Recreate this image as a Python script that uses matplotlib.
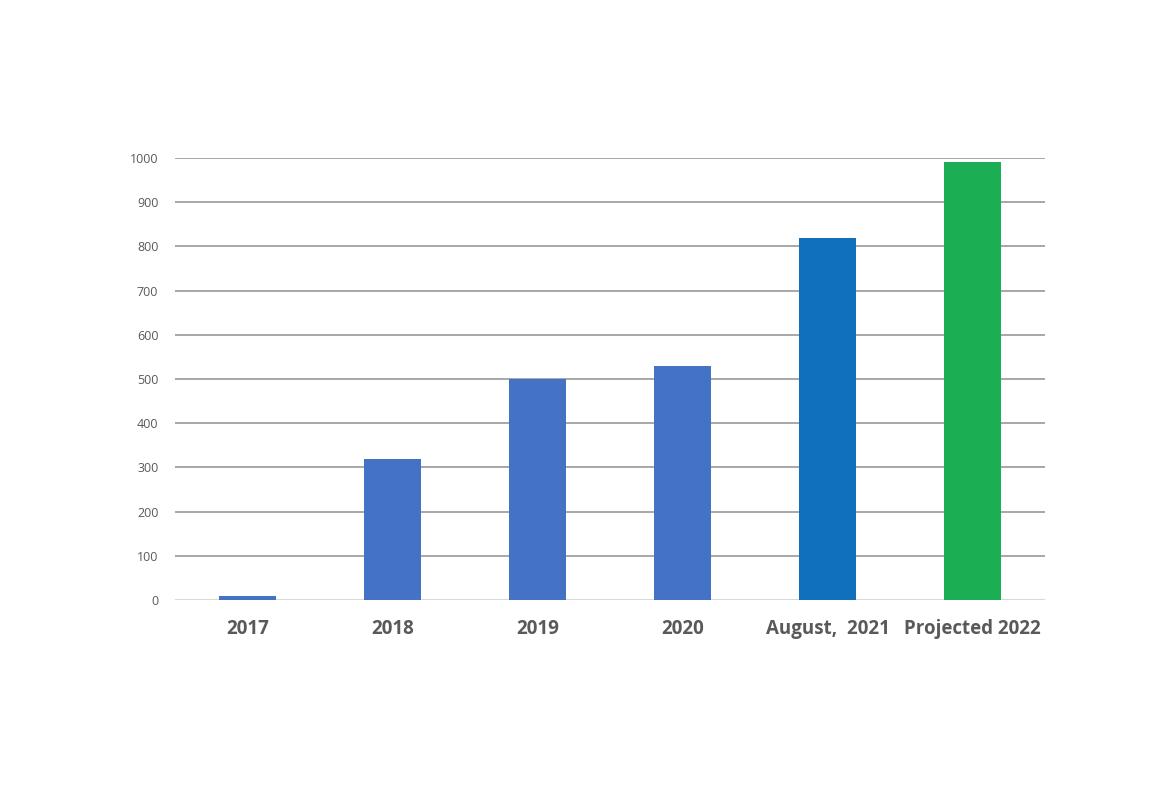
import matplotlib.pyplot as plt

# Data
categories = ['2017', '2018', '2019', '2020', 'August,  2021', 'Projected 2022']
values = [9, 318, 501, 529, 820, 990]
colors = ['#4472C4', '#4472C4', '#4472C4', '#4472C4', '#1170BE', '#1BAE52']

plt.rcParams['font.family'] = ['Open Sans', 'DejaVu Sans']

fig = plt.figure(figsize=(11.76, 7.9), dpi=100)
ax = fig.add_axes([0.1488, 0.2405, 0.7398, 0.5595])

x = range(len(categories))
ax.bar(x, values, width=0.39, color=colors, zorder=3)

# Gridlines
ax.set_ylim(0, 1000)
ax.set_xlim(-0.5, len(categories) - 0.5)
ax.set_yticks(range(0, 1001, 100))
ax.yaxis.grid(True, color='#a0a0a0', linewidth=1.3, zorder=0)
ax.axhline(0, color='#d9d9d9', linewidth=1.5, zorder=2)

for s in ax.spines.values():
    s.set_visible(False)

ax.set_xticks(list(x))
ax.set_xticklabels(categories, fontsize=13.5, fontweight='bold', color='#595959')
ax.tick_params(axis='x', length=0, pad=14)
ax.tick_params(axis='y', length=0, pad=12, labelsize=9, labelcolor='#595959')

fig.savefig('out.png', dpi=100, facecolor='white')
